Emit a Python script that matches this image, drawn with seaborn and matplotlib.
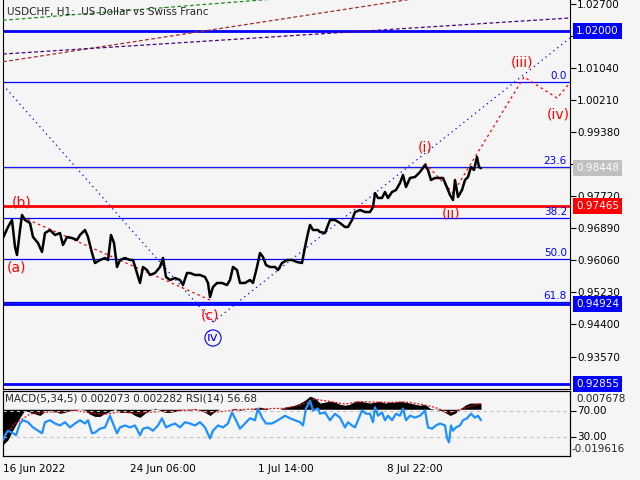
import numpy as np
import pandas as pd
import seaborn as sns
import matplotlib.pyplot as plt
import matplotlib.transforms as mtransforms

# price path (x = bar position on the chart, close price)
bar_x = [3, 8, 12, 15, 17, 20, 22, 25, 30, 33, 38, 42, 45, 50, 55, 60, 63, 67, 72, 77,
         80, 85, 88, 92, 95, 100, 105, 108, 111, 114, 117, 120, 125, 130, 133, 136, 140, 143, 147, 150,
         155, 160, 163, 166, 170, 175, 180, 183, 187, 190, 195, 200, 205, 208, 210, 213, 217, 222, 227, 230,
         233, 237, 240, 245, 250, 253, 257, 260, 263, 266, 270, 275, 278, 282, 287, 292, 297, 302, 305, 308,
         310, 313, 318, 320, 325, 330, 335, 340, 345, 348, 352, 355, 360, 365, 370, 373, 375, 378, 382, 385,
         388, 392, 396, 400, 403, 406, 410, 415, 420, 425, 428, 431, 435, 440, 443, 446, 450, 453, 455, 458,
         462, 465, 468, 471, 474, 477, 479, 481]
close = [0.96640, 0.96925, 0.97106, 0.96407, 0.96200, 0.96847, 0.97236, 0.97106, 0.97028, 0.96666,
         0.96510, 0.96277, 0.96769, 0.96847, 0.96718, 0.96769, 0.96459, 0.96666, 0.96640, 0.96588,
         0.96718, 0.96847, 0.96666, 0.96251, 0.95992, 0.96070, 0.96122, 0.96070, 0.96718, 0.96510,
         0.95889, 0.96070, 0.96122, 0.96070, 0.96070, 0.95811, 0.95475, 0.95889, 0.95811, 0.95682,
         0.95733, 0.95889, 0.96122, 0.95630, 0.95552, 0.95604, 0.95552, 0.95422, 0.95733, 0.95733,
         0.95682, 0.95682, 0.95630, 0.95475, 0.95111, 0.95371, 0.95475, 0.95475, 0.95422, 0.95552,
         0.95889, 0.95811, 0.95475, 0.95475, 0.95552, 0.95475, 0.95889, 0.96251, 0.96148, 0.95940,
         0.95889, 0.95889, 0.95811, 0.95992, 0.96070, 0.96070, 0.96018, 0.95992, 0.96407, 0.96769,
         0.96979, 0.96847, 0.96847, 0.96795, 0.96769, 0.97106, 0.97106, 0.97028, 0.96925, 0.96925,
         0.97106, 0.97313, 0.97365, 0.97313, 0.97313, 0.97443, 0.97805, 0.97676, 0.97676, 0.97831,
         0.97676, 0.97831, 0.97883, 0.98064, 0.98272, 0.97961, 0.98194, 0.98220, 0.98349, 0.98531,
         0.98401, 0.98142, 0.98194, 0.98194, 0.98194, 0.98012, 0.97754, 0.97624, 0.98142, 0.97702,
         0.97883, 0.98142, 0.98220, 0.98479, 0.98401, 0.98738, 0.98479, 0.98448]

# RSI(14)
rsi_x = [3, 5, 8, 12, 16, 20, 23, 28, 33, 38, 42, 45, 50, 55, 60, 65, 70, 75, 80, 85,
         88, 92, 95, 100, 105, 110, 113, 117, 120, 125, 130, 135, 140, 143, 148, 153, 158, 162, 166, 170,
         175, 180, 185, 190, 195, 200, 205, 210, 213, 218, 223, 228, 232, 236, 240, 245, 250, 255, 258, 262,
         266, 272, 278, 285, 290, 295, 300, 303, 306, 310, 313, 318, 320, 325, 330, 335, 340, 345, 348, 352,
         355, 358, 362, 366, 370, 373, 375, 378, 382, 385, 388, 392, 396, 400, 403, 406, 410, 415, 420, 425,
         428, 432, 436, 440, 445, 447, 449, 451, 453, 456, 460, 463, 467, 471, 475, 478, 481]
rsi = [24, 32, 39, 36, 32, 50, 55, 52, 44, 39, 35, 52, 55, 50, 47, 52, 44, 50, 55, 50,
       55, 35, 36, 42, 44, 62, 50, 35, 44, 47, 44, 47, 32, 42, 44, 39, 47, 58, 44, 47,
       50, 44, 52, 50, 47, 52, 44, 27, 39, 47, 44, 50, 67, 55, 42, 50, 58, 55, 73, 59,
       50, 50, 55, 62, 58, 55, 52, 47, 73, 85, 70, 73, 65, 67, 55, 65, 59, 44, 52, 47,
       44, 55, 70, 65, 65, 52, 75, 62, 67, 55, 62, 55, 65, 62, 73, 55, 62, 59, 62, 70,
       44, 42, 47, 50, 47, 28, 21, 47, 39, 44, 47, 55, 58, 65, 59, 62, 55]

# MACD(5,34,5) main (histogram) and signal
macd_x = [3, 8, 12, 16, 20, 24, 28, 33, 40, 45, 50, 55, 60, 65, 70, 75, 80, 85, 90, 95,
          100, 105, 110, 115, 120, 125, 130, 135, 140, 145, 150, 155, 160, 165, 170, 175, 180, 185, 190, 195,
          200, 205, 210, 215, 220, 225, 230, 235, 240, 245, 250, 255, 260, 265, 270, 275, 280, 285, 290, 295,
          300, 305, 310, 315, 320, 325, 330, 335, 340, 345, 350, 355, 360, 365, 370, 375, 380, 385, 390, 395,
          400, 405, 410, 415, 420, 425, 430, 435, 440, 445, 450, 455, 460, 465, 470, 475, 481]
macd = [-0.0149, -0.0128, -0.0094, -0.0064, -0.0034, -0.0009, -0.0009, -0.0017, -0.0026, -0.0009,
        -0.0004, -0.0009, -0.0017, -0.0013, -0.0004, -0.0004, 0.0000, -0.0004, -0.0021, -0.0030,
        -0.0030, -0.0017, -0.0009, 0.0000, -0.0013, -0.0013, -0.0013, -0.0026, -0.0034, -0.0017,
        -0.0004, 0.0004, -0.0004, -0.0013, -0.0013, -0.0009, -0.0004, 0.0000, -0.0004, 0.0004,
        -0.0004, -0.0013, -0.0026, -0.0009, 0.0000, 0.0000, 0.0000, 0.0004, -0.0004, 0.0000,
        0.0000, 0.0004, 0.0009, 0.0004, 0.0000, 0.0000, 0.0000, 0.0009, 0.0013, 0.0017,
        0.0026, 0.0038, 0.0055, 0.0047, 0.0026, 0.0030, 0.0034, 0.0030, 0.0021, 0.0017,
        0.0021, 0.0034, 0.0034, 0.0030, 0.0026, 0.0030, 0.0034, 0.0026, 0.0030, 0.0030,
        0.0034, 0.0030, 0.0026, 0.0021, 0.0017, 0.0021, 0.0004, 0.0000, -0.0004, -0.0013,
        -0.0026, -0.0017, 0.0000, 0.0017, 0.0026, 0.0026, 0.0026]
sig_x = [3, 15, 30, 45, 60, 75, 90, 105, 120, 135, 150, 165, 180, 195, 210, 225, 240,
         255, 270, 285, 300, 315, 330, 345, 360, 375, 390, 405, 420, 435, 450, 465, 481]
signal = [-0.0120, -0.0060, -0.0020, -0.0012, -0.0012, -0.0005, -0.0015, -0.0022, -0.0010,
          -0.0018, -0.0012, -0.0008, -0.0006, -0.0002, -0.0015, -0.0008, -0.0002, 0.0002,
          0.0003, 0.0004, 0.0018, 0.0042, 0.0033, 0.0022, 0.0032, 0.0030, 0.0029, 0.0031,
          0.0022, 0.0008, -0.0016, 0.0006, 0.0024]

# horizontal levels
fib_levels = [1.00680, 0.98486, 0.97155, 0.96088, 0.94990]
fib_names = ['0.0', '23.6', '38.2', '50.0', '61.8']
boxed_prices = [1.02000, 0.98448, 0.97465, 0.94924, 0.92855]
boxed_colors = ['#0000ff', '#c0c0c0', '#ff0000', '#0000ff', '#0000ff']
price_ticks = [1.02700, 1.01870, 1.01040, 1.00210, 0.99380, 0.98550,
               0.97720, 0.96890, 0.96060, 0.95230, 0.94400, 0.93570]
hidden_ticks = [1.01870, 0.98550]  # covered by the price boxes

# trend lines: (x0, p0, x1, p1)
green_line = [3, 1.02280, 570, 1.03430]
brown_line = [3, 1.01204, 570, 1.03455]
purple_line = [3, 1.01405, 570, 1.02338]
blue_down = [3, 1.00603, 213, 0.94464]
blue_up = [213, 0.94464, 570, 1.01820]
wave_abc_x = [18, 22, 210]
wave_abc_p = [0.96330, 0.97184, 0.95034]
wave_imp_x = [425, 453, 524, 557, 570]
wave_imp_p = [0.98582, 0.97805, 1.00810, 1.00266, 1.00654]

# wave labels
wave_labels = ['(a)', '(b)', '(c)', '(i)', '(ii)', '(iii)', '(iv)']
wave_lx = [17, 22, 210, 425, 451, 522, 558]
wave_lp = [0.95863, 0.97572, 0.94620, 0.98971, 0.97287, 1.01198, 0.99826]

BG = '#f5f5f5'
sns.set_theme(style='white', rc={'axes.facecolor': BG, 'figure.facecolor': BG})
plt.rcParams['font.family'] = ['DejaVu Sans']

fig = plt.figure(figsize=(6.4, 4.8), dpi=100)
ax = fig.add_axes([3/640, 91/480, 567/640, 389/480])
ax2 = fig.add_axes([3/640, 24/480, 567/640, 65/480])

# ---- main price panel ----
df = pd.DataFrame({'x': bar_x, 'close': close})
sns.lineplot(data=df, x='x', y='close', ax=ax, color='black', lw=1.8, zorder=4)

for lvl, name in zip(fib_levels, fib_names):
    ax.axhline(lvl, color='#0000ff', lw=0.9, zorder=2)
    ax.text(567, lvl + 0.0003, name, color='#0000ff', fontsize=7.5, ha='right', va='bottom')

ax.axhline(0.98448, color='#c0c0c0', lw=0.9, zorder=2)
ax.axhline(1.02000, color='#0000ff', lw=2, zorder=2)
ax.axhline(0.97465, color='#ff0000', lw=2, zorder=2)
ax.axhline(0.94924, color='#0000ff', lw=2, zorder=2)
ax.axhline(0.92855, color='#0000ff', lw=2, zorder=2)

for ln, col in [(green_line, '#228b22'), (brown_line, '#a52a2a'), (purple_line, '#4b0082')]:
    ax.plot([ln[0], ln[2]], [ln[1], ln[3]], color=col, lw=0.9, dashes=(3, 2), zorder=3)
for ln in [blue_down, blue_up]:
    ax.plot([ln[0], ln[2]], [ln[1], ln[3]], color='#0000ff', lw=0.9, dashes=(1, 3), zorder=3)
ax.plot(wave_abc_x, wave_abc_p, color='#ff0000', lw=0.9, dashes=(2, 2.5), zorder=3)
ax.plot(wave_imp_x, wave_imp_p, color='#ff0000', lw=0.9, dashes=(2, 2.5), zorder=3)

for lab, x, p in zip(wave_labels, wave_lx, wave_lp):
    ax.text(x, p, lab, color='#ff0000', fontsize=10, ha='center', va='center', zorder=6)
ax.text(213, 0.94050, 'iv', color='#0000ff', fontsize=9.5, ha='center', va='center',
        bbox=dict(boxstyle='circle,pad=0.12', fc='none', ec='#0000ff', lw=0.8))

ax.text(7, 1.02804 - 12 * 0.000259, 'USDCHF, H1:  US Dollar vs Swiss Franc',
        fontsize=7.5, ha='left', va='center', zorder=6)

ax.set_xlim(3, 570)
ax.set_ylim(0.92729, 1.02804)
ax.set_xticks([])
ax.yaxis.tick_right()
ax.set_yticks(price_ticks)
ax.set_yticklabels(['' if t in hidden_ticks else f'{t:.5f}' for t in price_ticks])
ax.tick_params(axis='y', direction='out', length=4, width=0.8, labelsize=7.5, pad=1, colors='black')
ax.set_xlabel('')
ax.set_ylabel('')
for s in ['left', 'right', 'bottom']:
    ax.spines[s].set_color('black')
    ax.spines[s].set_linewidth(0.8)
ax.spines['top'].set_visible(False)

trans = mtransforms.blended_transform_factory(ax.transAxes, ax.transData)
for p, c in zip(boxed_prices, boxed_colors):
    ax.text(1.011, p, f'{p:.5f}', transform=trans, color='white', fontsize=7.5,
            ha='left', va='center', clip_on=False, zorder=10,
            bbox=dict(boxstyle='square,pad=0.3', fc=c, ec='none'))

# ---- indicator panel: MACD on ax2, RSI on twin ax3 ----
ax2.fill_between(macd_x, 0, macd, color='black', lw=0, zorder=2)
ax2.plot(sig_x, signal, color='#ff0000', lw=0.9, dashes=(1.5, 1.5), zorder=3)
ax2.set_ylim(-0.019616, 0.007678)
ax2.set_yticks([])
ax2.set_xlim(3, 570)
ax2.set_xticks([3, 130, 258, 387])
ax2.set_xticklabels(['16 Jun 2022', '24 Jun 06:00', '1 Jul 14:00', '8 Jul 22:00'], ha='left')
ax2.tick_params(axis='x', direction='out', length=4, width=0.8, labelsize=7.5, pad=2, colors='black')
ax2.set_xlabel('')

ax3 = ax2.twinx()
ax3.axhline(70, color='#c0c0c0', lw=0.8, dashes=(3, 3), zorder=1)
ax3.axhline(30, color='#c0c0c0', lw=0.8, dashes=(3, 3), zorder=1)
rsi_df = pd.DataFrame({'x': rsi_x, 'rsi': rsi})
sns.lineplot(data=rsi_df, x='x', y='rsi', ax=ax3, color='#1e90ff', lw=1.6, zorder=4)
ax3.set_ylim(0, 100)
ax3.set_xlim(3, 570)
ax3.set_yticks([70, 30])
ax3.set_yticklabels(['70.00', '30.00'])
ax3.tick_params(axis='y', direction='out', length=4, width=0.8, labelsize=7.5, pad=1, colors='black')
ax3.set_xlabel('')
ax3.set_ylabel('')
for a in [ax2, ax3]:
    for s in a.spines.values():
        s.set_color('black')
        s.set_linewidth(0.8)

ax3.text(1.011, 0.877, '0.007678', transform=ax3.transAxes, fontsize=7.5, ha='left', va='center')
ax3.text(1.003, 0.108, '-0.019616', transform=ax3.transAxes, fontsize=7.5, ha='left', va='center')
ax3.text(0.004, 0.877, 'MACD(5,34,5) 0.002073 0.002282 RSI(14) 56.68', transform=ax3.transAxes,
         fontsize=7.5, ha='left', va='center', zorder=6)

fig.savefig('out.png', dpi=100, facecolor=BG)
